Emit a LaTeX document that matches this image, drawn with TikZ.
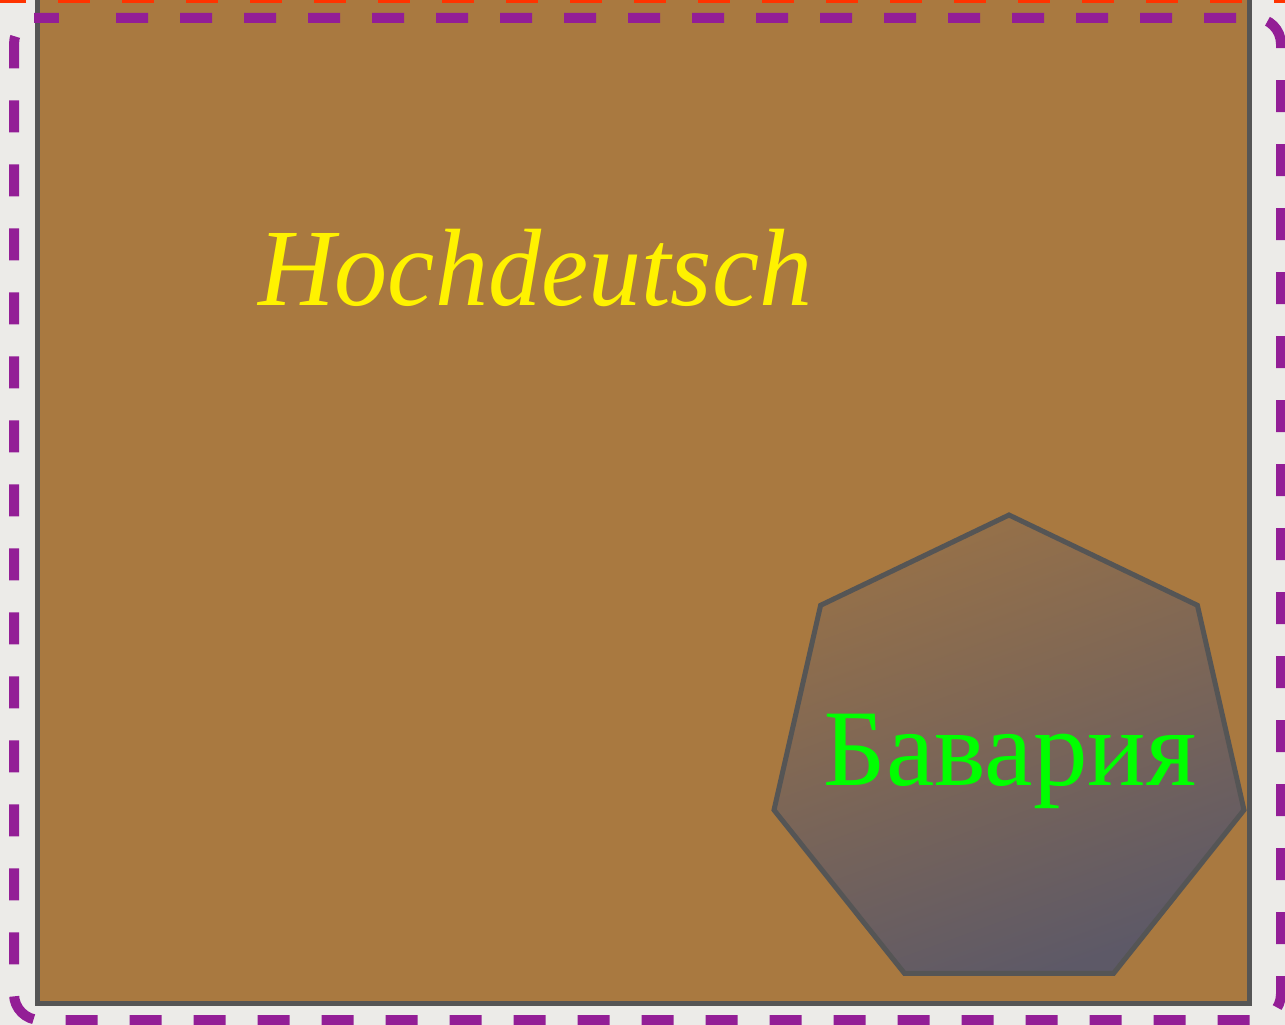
\documentclass[tikz,border=0pt]{standalone}
\usepackage{fontspec}
\setmainfont{Liberation Serif}
\definecolor{bgc}{HTML}{ECEBE8}
\definecolor{brownc}{HTML}{A97940}
\definecolor{edgec}{HTML}{555555}
\definecolor{purplec}{HTML}{931E96}
\definecolor{redc}{HTML}{FF3300}
\definecolor{heptop}{HTML}{977148}
\definecolor{hepbot}{HTML}{5D5967}
\tikzset{
  panel/.style={fill=brownc, draw=edgec, line width=5pt},
  frame/.style={draw=purplec, line width=10pt, dash pattern=on 32pt off 32pt, dash phase=34pt, rounded corners=26pt},
  topline/.style={draw=redc, line width=6pt, dash pattern=on 32pt off 32pt},
  hept/.style={draw=edgec, line width=5pt, line join=miter, top color=heptop, bottom color=hepbot, shading angle=20},
  label/.style={inner sep=0pt, anchor=base}
}
\begin{document}
\begin{tikzpicture}[x=1pt,y=-1pt]
\useasboundingbox (0,0) rectangle (1285,1025);
\fill[bgc] (0,0) rectangle (1285,1025);
\draw[panel] (37,-10) rectangle (1249,1003);
\draw[topline] (-6,0) -- (1290,0);
\draw[frame] (60,18) -- (1281,18) -- (1281,1020) -- (14,1020) -- (14,18) -- cycle;
\coordinate (v0) at (1009,515);
\coordinate (v1) at (1197.4,605.3);
\coordinate (v2) at (1244,810);
\coordinate (v3) at (1113.6,973.3);
\coordinate (v4) at (904.4,973.3);
\coordinate (v5) at (774,810);
\coordinate (v6) at (820.6,605.3);
\path[hept] (v0) -- (v1) -- (v2) -- (v3) -- (v4) -- (v5) -- (v6) -- cycle;
\node[label, text=yellow, anchor=base west] (hoch) at (258,305) {\fontsize{110}{130}\selectfont\itshape\scalebox{0.965}[1]{Hochdeutsch}};
\node[label, text=green] (bav) at (1010,785) {\fontsize{109}{130}\selectfont Бавария};
\end{tikzpicture}
\end{document}
